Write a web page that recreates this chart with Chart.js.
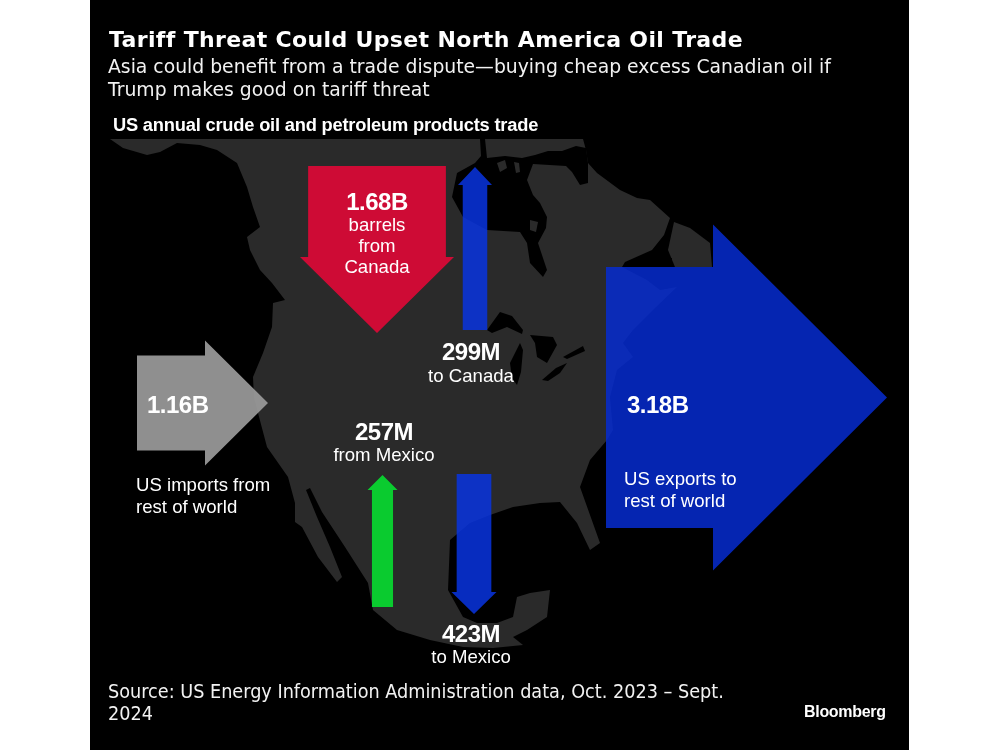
<!DOCTYPE html>
<html><head><meta charset="utf-8">
<style>
html,body{margin:0;padding:0;background:#fff;width:1000px;height:750px;overflow:hidden}
#panel{position:absolute;left:90px;top:0;width:819px;height:750px;background:#000}
canvas{position:absolute;left:0;top:0}
.t{position:absolute;color:#fff;white-space:nowrap;font-family:"DejaVu Sans",sans-serif}
</style>
<script src="https://cdn.jsdelivr.net/npm/chart.js@4"></script>
</head><body>
<div id="panel"></div>
<canvas id="c" width="1000" height="750"></canvas>
<div class="t" style="left:109px;top:26px;font-size:22px;font-weight:700;line-height:28px;letter-spacing:.35px">Tariff Threat Could Upset North America Oil Trade</div>
<div class="t" style="left:108px;top:55px;font-size:18.8px;line-height:23px;color:#f2f2f2">Asia could benefit from a trade dispute—buying cheap excess Canadian oil if<br>Trump makes good on tariff threat</div>
<div class="t" style="left:113px;top:114px;font-family:'Liberation Sans';font-size:18.3px;font-weight:700;line-height:22px;letter-spacing:-.2px">US annual crude oil and petroleum products trade</div>
<div class="t" id="src" style="left:108px;top:681px;font-size:19.65px;line-height:22px;font-family:'DejaVu Sans Condensed','DejaVu Sans';color:#f2f2f2">Source: US Energy Information Administration data, Oct. 2023 – Sept.<br>2024</div>
<div class="t" style="left:804px;top:702px;font-family:'Liberation Sans';font-size:16px;font-weight:700;line-height:20px;letter-spacing:-.3px">Bloomberg</div>
<script>
// ---- values (billion barrels) ----
const flowNames  = ["from Canada","to Canada","imports from rest of world","exports to rest of world","from Mexico","to Mexico"];
const flowValues = [1.68,0.299,1.16,3.18,0.257,0.423];
const flowLabels = ["1.68B","299M","1.16B","3.18B","257M","423M"];

// ---- layout: arrow placement (tail, tip, centre line, head wing span, head base) ----
const SHAFT_PER_BILLION = 82;
const arrowDir    = ["y","y","x","x","y","y"];
const arrowTail   = [166,330,137,606,607,474];
const arrowTip    = [333,167,268,887,475,614];
const arrowCentre = [377,475,403,397.5,382.5,474];
const arrowSpan   = [154,34,125,346,30,45];
const arrowHead   = [257,185,205,713,490,592];
const arrowColors = ["rgb(206,11,53)","rgba(8,52,225,.85)","rgba(155,155,155,.92)","rgba(6,44,208,.85)","rgb(10,203,47)","rgba(8,52,225,.85)"];

// ---- layout: base map outlines ----
const landMain = [[110,139],[583,139],[586,150],[588,163],[597,173],[620,190],[637,198],[650,200],[670,218],[664,235],[652,250],[625,262],[622,267],[647,280],[660,290],[677,287],[653,310],[633,330],[623,343],[633,357],[617,370],[610,397],[613,430],[607,440],[590,460],[580,487],[600,543],[590,550],[577,523],[560,502],[540,503],[513,507],[490,515],[470,523],[450,540],[448,590],[463,617],[477,623],[497,623],[513,617],[517,597],[530,593],[550,590],[547,617],[527,630],[513,637],[523,645],[493,648],[463,647],[430,640],[397,630],[373,610],[368,583],[345,547],[322,512],[310,488],[306,490],[317,517],[330,547],[342,577],[337,582],[318,557],[302,527],[295,522],[295,503],[288,477],[267,447],[258,413],[254,398],[253,377],[263,353],[272,327],[273,303],[285,300],[272,283],[260,270],[250,250],[247,237],[260,227],[253,207],[247,187],[237,163],[217,150],[200,145],[177,143],[160,152],[147,155],[123,148]];
const landNewfoundland = [[674,222],[690,228],[710,243],[712,267],[675,267],[668,250]];
const landIslands = [[[497,163],[505,160],[507,168],[500,172]],[[514,162],[519,163],[520,172],[516,173]],[[530,220],[538,222],[536,232],[530,230]]];
const waterHudson = [[480,139],[485,139],[487,158],[505,156],[522,158],[535,155],[548,151],[562,151],[576,146],[586,148],[588,163],[588,183],[580,185],[572,172],[566,166],[533,164],[527,180],[533,195],[540,203],[547,217],[546,228],[538,243],[547,270],[543,277],[530,263],[527,243],[520,232],[487,230],[463,217],[452,197],[457,173],[475,163],[481,156]];
const waterLakes = [[[487,330],[500,312],[512,316],[523,330],[522,334],[507,327],[492,333]],[[510,363],[520,343],[523,350],[521,372],[517,385],[512,378]],[[530,335],[553,337],[557,345],[547,363],[537,357],[535,343]],[[542,380],[556,368],[567,363],[560,373],[548,381]],[[563,357],[583,346],[585,351],[567,359]]];
const waterGulf = [[640,264],[655,258],[672,258],[672,267],[640,267]];

const LAND = "#2a2a2a", WATER = "#000";
function poly(pts,fill,z){return {type:"scatter",data:pts.map(p=>({x:p[0],y:p[1]})),polyFill:fill,showLine:false,pointRadius:0,order:z};}

function arrowPoints(i){
  const half = flowValues[i]*SHAFT_PER_BILLION/2, wing = arrowSpan[i]/2, c = arrowCentre[i];
  const t = arrowTail[i], h = arrowHead[i], p = arrowTip[i];
  const along = [[t,c-half],[h,c-half],[h,c-wing],[p,c],[h,c+wing],[h,c+half],[t,c+half]];
  return arrowDir[i]==="x" ? along : along.map(q=>[q[1],q[0]]);
}

const datasets = [];
[landMain,landNewfoundland].forEach(s=>datasets.push(poly(s,LAND)));
datasets.push(poly(waterHudson,WATER));
waterLakes.forEach(s=>datasets.push(poly(s,WATER)));
datasets.push(poly(waterGulf,WATER));
landIslands.forEach(s=>datasets.push(poly(s,LAND)));
flowValues.forEach((v,i)=>{const d=poly(arrowPoints(i),arrowColors[i]);d.label=flowNames[i];datasets.push(d);});

const polygons = {id:"polygons",beforeDatasetsDraw(chart){
  const g=chart.ctx;g.save();
  chart.data.datasets.forEach((d,i)=>{
    const pts=chart.getDatasetMeta(i).data;
    g.beginPath();pts.forEach((p,k)=>k?g.lineTo(p.x,p.y):g.moveTo(p.x,p.y));g.closePath();
    g.fillStyle=d.polyFill;g.fill();
  });
  g.restore();
}};

// ---- annotation text: [text, x, y, align, bold] ----
const notes = [
 [flowLabels[0],377,203,"center",1],["barrels",377,226,"center",0],["from",377,247,"center",0],["Canada",377,268,"center",0],
 [flowLabels[1],471,353,"center",1],["to Canada",471,377,"center",0],
 [flowLabels[2],147,406,"left",1],["US imports from",136,486,"left",0],["rest of world",136,508,"left",0],
 [flowLabels[4],384,433,"center",1],["from Mexico",384,456,"center",0],
 [flowLabels[3],627,406,"left",1],["US exports to",624,480,"left",0],["rest of world",624,502,"left",0],
 [flowLabels[5],471,635,"center",1],["to Mexico",471,658,"center",0]
];
const labels = {id:"labels",afterDatasetsDraw(chart){
  const g=chart.ctx,x=chart.scales.x,y=chart.scales.y;g.save();g.textBaseline="middle";g.fillStyle="#fff";
  notes.forEach(n=>{
    g.font=(n[4]?"700 24px":"400 18.6px")+' "Liberation Sans"';
    g.letterSpacing=n[4]?"-0.5px":"0px";
    g.textAlign=n[3];
    g.fillText(n[0],x.getPixelForValue(n[1]),y.getPixelForValue(n[2]));
  });
  g.restore();
}};

new Chart(document.getElementById("c"),{
  data:{datasets},
  plugins:[polygons,labels],
  options:{responsive:false,animation:false,events:[],layout:{padding:0},
    plugins:{legend:{display:false},tooltip:{enabled:false},title:{display:false}},
    scales:{x:{type:"linear",display:false,min:0,max:1000},y:{type:"linear",display:false,min:0,max:750,reverse:true}}}
});
</script>
</body></html>
